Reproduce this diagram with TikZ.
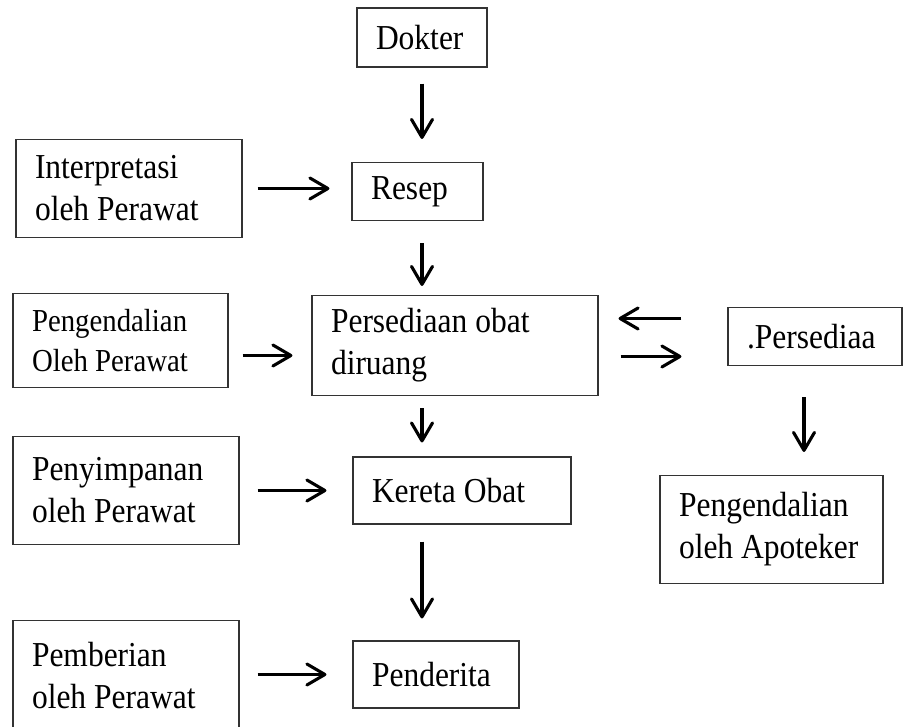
\documentclass[tikz,border=0pt]{standalone}
\usepackage{fontspec}
\setmainfont{Liberation Serif}[FakeStretch=0.9]
\usetikzlibrary{arrows.meta}
\tikzstyle{box} = [rectangle, draw=black!80, line width=1.1pt, inner xsep=19pt, align=flush left, font=\fontsize{35}{42}\selectfont]
\tikzstyle{smallbox} = [box, font=\fontsize{32}{40}\selectfont]
\tikzstyle{arrow} = [line width=3.1pt,->,>={Straight Barb[length=18pt,width=21pt,round]}]

\begin{document}
\begin{tikzpicture}[node distance=154pt]
	\useasboundingbox (0,0) rectangle (903pt,-727pt);
	\node (dokter) [box, text width=92pt, minimum height=59pt] at (422pt,-37.5pt) {Dokter};
	\node (resep) [box, text width=93pt, minimum height=58pt, below of=dokter, xshift=-4.5pt] {Resep};
	\node (persed) [box, text width=248pt, minimum height=100pt, below of=resep, xshift=37.5pt] {Persediaan obat\\diruang};
	\node (kereta) [box, text width=180pt, minimum height=67pt, below of=persed, xshift=7pt, yshift=9pt] {Kereta Obat};
	\node (penderita) [box, text width=128pt, minimum height=67pt, below of=kereta, xshift=-26pt, yshift=-30pt] {Penderita};
	\node (interp) [box, text width=188pt, minimum height=98pt, left of=resep, xshift=-134.5pt, yshift=3pt] {Interpretasi\\oleh Perawat};
	\node (pengend) [smallbox, text width=177pt, minimum height=94pt, left of=persed, xshift=-180.5pt, yshift=5pt] {Pengendalian\\Oleh Perawat};
	\node (simpan) [box, text width=188pt, minimum height=108pt, left of=kereta, xshift=-182pt] {Penyimpanan\\oleh Perawat};
	\node (pemberian) [box, text width=188pt, minimum height=110pt, left of=penderita, xshift=-156pt, yshift=-1pt] {Pemberian\\oleh Perawat};
	\node (stock) [box, text width=136pt, minimum height=58pt, right of=persed, xshift=206pt, yshift=9pt] {.Persediaa};
	\node (apoteker) [box, text width=185pt, minimum height=108pt, below of=stock, xshift=-43.5pt, yshift=-39pt] {Pengendalian\\oleh Apoteker};
	\draw [arrow, shorten <=16pt, shorten >=23pt] (dokter.south) -- (dokter.south |- resep.north);
	\draw [arrow, shorten <=22pt, shorten >=9pt] (resep.south -| dokter.south) -- (persed.north -| dokter.south);
	\draw [arrow, shorten <=12pt, shorten >=14pt] (persed.south -| dokter.south) -- (kereta.north -| dokter.south);
	\draw [arrow, shorten <=17pt, shorten >=22pt] (kereta.south -| dokter.south) -- (penderita.north -| dokter.south);
	\draw [arrow, shorten <=15pt, shorten >=22pt] (interp.east) -- (interp.east -| resep.west);
	\draw [arrow, shorten <=14pt, shorten >=19pt] ([yshift=-15pt]pengend.east) -- ([yshift=-15pt]pengend.east -| persed.west);
	\draw [arrow, shorten <=18pt, shorten >=26pt] (simpan.east) -- (simpan.east -| kereta.west);
	\draw [arrow, shorten <=18pt, shorten >=26pt] (penderita.west -| pemberian.east) -- (penderita.west);
	\draw [arrow, shorten <=46pt, shorten >=20pt] ([yshift=18pt]stock.west) -- ([yshift=18pt]stock.west -| persed.east);
	\draw [arrow, shorten <=22pt, shorten >=46pt] ([yshift=-20pt]stock.west -| persed.east) -- ([yshift=-20pt]stock.west);
	\draw [arrow, shorten <=31pt, shorten >=23pt] ([xshift=-11pt]stock.south) -- ([xshift=-11pt]stock.south |- apoteker.north);
\end{tikzpicture}
\end{document}
